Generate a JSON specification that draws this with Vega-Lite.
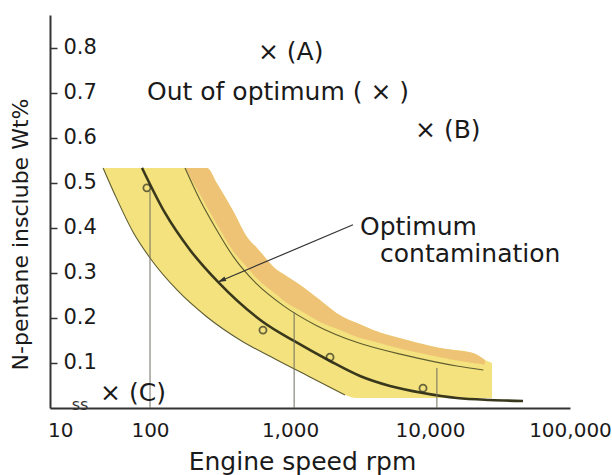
{
  "$schema": "https://vega.github.io/schema/vega-lite/v6.json",
  "width": 520,
  "height": 393,
  "autosize": "none",
  "padding": {"left": 50, "top": 15, "right": 42, "bottom": 67},
  "background": "white",
  "config": {"view": {"stroke": null}, "font": "DejaVu Sans"},
  "datasets": {
    "yellow": [
      {"x": 46.2, "hi": 0.5333, "lo": 0.5333},
      {"x": 56.2, "hi": 0.5333, "lo": 0.4733},
      {"x": 75.6, "hi": 0.5333, "lo": 0.3911},
      {"x": 100, "hi": 0.5333, "lo": 0.3333},
      {"x": 155.9, "hi": 0.5333, "lo": 0.2622},
      {"x": 255.3, "hi": 0.5333, "lo": 0.2022},
      {"x": 301, "hi": 0.4986, "lo": 0.1867},
      {"x": 393.6, "hi": 0.437, "lo": 0.162},
      {"x": 493, "hi": 0.38, "lo": 0.1427},
      {"x": 581, "hi": 0.3556, "lo": 0.1307},
      {"x": 807.5, "hi": 0.3067, "lo": 0.1067},
      {"x": 891, "hi": 0.298, "lo": 0.1},
      {"x": 1238, "hi": 0.2689, "lo": 0.0769},
      {"x": 1552, "hi": 0.2456, "lo": 0.0609},
      {"x": 2391, "hi": 0.2022, "lo": 0.0312},
      {"x": 3010, "hi": 0.1887, "lo": 0.022},
      {"x": 3916, "hi": 0.1733, "lo": 0.022},
      {"x": 6850, "hi": 0.1511, "lo": 0.022},
      {"x": 11790, "hi": 0.1333, "lo": 0.022},
      {"x": 20280, "hi": 0.1222, "lo": 0.022},
      {"x": 24710, "hi": 0.1067, "lo": 0.022},
      {"x": 27730, "hi": 0.1, "lo": 0.022}
    ],
    "orange": [
      {"x": 177.8, "hi": 0.5333, "lo": 0.5333},
      {"x": 227.6, "hi": 0.5333, "lo": 0.4742},
      {"x": 255.3, "hi": 0.5333, "lo": 0.4463},
      {"x": 301, "hi": 0.4986, "lo": 0.4076},
      {"x": 393.6, "hi": 0.437, "lo": 0.3483},
      {"x": 493, "hi": 0.38, "lo": 0.3128},
      {"x": 581, "hi": 0.3556, "lo": 0.2876},
      {"x": 807.5, "hi": 0.3067, "lo": 0.2508},
      {"x": 891, "hi": 0.298, "lo": 0.2394},
      {"x": 1238, "hi": 0.2689, "lo": 0.2132},
      {"x": 1552, "hi": 0.2456, "lo": 0.1949},
      {"x": 2391, "hi": 0.2022, "lo": 0.1706},
      {"x": 3010, "hi": 0.1887, "lo": 0.1579},
      {"x": 3916, "hi": 0.1733, "lo": 0.1482},
      {"x": 6850, "hi": 0.1511, "lo": 0.1283},
      {"x": 11790, "hi": 0.1333, "lo": 0.113},
      {"x": 15590, "hi": 0.1276, "lo": 0.1053},
      {"x": 20280, "hi": 0.1222, "lo": 0.0998},
      {"x": 24710, "hi": 0.1067, "lo": 0.0964}
    ],
    "curves": [
      {"curve": "lower", "x": 46.2, "y": 0.5333},
      {"curve": "lower", "x": 56.2, "y": 0.4733},
      {"curve": "lower", "x": 75.6, "y": 0.3911},
      {"curve": "lower", "x": 100, "y": 0.3333},
      {"curve": "lower", "x": 155.9, "y": 0.2622},
      {"curve": "lower", "x": 255.3, "y": 0.2022},
      {"curve": "lower", "x": 439.4, "y": 0.1511},
      {"curve": "lower", "x": 807.5, "y": 0.1067},
      {"curve": "lower", "x": 1389, "y": 0.0689},
      {"curve": "lower", "x": 2471, "y": 0.0289},
      {"curve": "upper", "x": 177.8, "y": 0.5333},
      {"curve": "upper", "x": 227.6, "y": 0.4622},
      {"curve": "upper", "x": 299.5, "y": 0.3956},
      {"curve": "upper", "x": 393.6, "y": 0.3363},
      {"curve": "upper", "x": 578, "y": 0.2756},
      {"curve": "upper", "x": 895.6, "y": 0.2274},
      {"curve": "upper", "x": 1552, "y": 0.1829},
      {"curve": "upper", "x": 2994, "y": 0.1459},
      {"curve": "upper", "x": 6826, "y": 0.1163},
      {"curve": "upper", "x": 15530, "y": 0.0933},
      {"curve": "upper", "x": 24050, "y": 0.0844}
    ],
    "main": [
      {"x": 87.7, "y": 0.5333},
      {"x": 128, "y": 0.4333},
      {"x": 193.1, "y": 0.3511},
      {"x": 306, "y": 0.28},
      {"x": 641.5, "y": 0.1911},
      {"x": 1068, "y": 0.1489},
      {"x": 1931, "y": 0.1044},
      {"x": 3162, "y": 0.0711},
      {"x": 5179, "y": 0.0489},
      {"x": 8913, "y": 0.0333},
      {"x": 15590, "y": 0.0222},
      {"x": 26830, "y": 0.0178},
      {"x": 46160, "y": 0.0156}
    ],
    "drops": [
      {"x": 100, "top": 0.482},
      {"x": 1070, "top": 0.213},
      {"x": 11200, "top": 0.089}
    ],
    "circles": [
      {"x": 95, "y": 0.489},
      {"x": 641, "y": 0.173},
      {"x": 1931, "y": 0.113},
      {"x": 8913, "y": 0.044}
    ],
    "arrow": [
      {"x": 2818, "y": 0.407, "x2": 306, "y2": 0.28}
    ],
    "labels": [
      {"text": "× (A)", "x": 590, "y": 0.791},
      {"text": "Out of optimum ( × )", "x": 95.2, "y": 0.702},
      {"text": "× (B)", "x": 7816, "y": 0.618},
      {"text": "× (C)", "x": 44, "y": 0.033},
      {"text": "Optimum", "x": 3162, "y": 0.402},
      {"text": "contamination", "x": 4394, "y": 0.342}
    ],
    "brk": [
      {"text": "ss", "x": 31.6, "y": 0.0}
    ]
  },
  "encoding": {
    "x": {
      "field": "x",
      "type": "quantitative",
      "scale": {"type": "log", "domain": [19.3, 100000], "nice": false},
      "axis": {
        "title": "Engine speed rpm",
        "titleFontSize": 25,
        "titleFontWeight": "normal",
        "titleColor": "#1a1a1a",
        "titleX": 252,
        "titleY": 61,
        "titleAlign": "center",
        "titleBaseline": "alphabetic",
        "values": [22.8, 100, 1000, 10000, 100000],
        "labelExpr": "datum.value < 50 ? '10' : format(datum.value, ',')",
        "labelFontSize": 20,
        "labelColor": "#1a1a1a",
        "labelPadding": 12,
        "labelFlush": false,
        "labelOverlap": false,
        "ticks": false,
        "grid": false,
        "domainColor": "#333333",
        "domainWidth": 2
      }
    },
    "y": {
      "field": "y",
      "type": "quantitative",
      "scale": {"domain": [0, 0.873], "nice": false},
      "axis": {
        "title": "N-pentane insclube Wt%",
        "titleFontSize": 22,
        "titleFontWeight": "normal",
        "titleColor": "#1a1a1a",
        "titleAngle": 270,
        "titleX": -30,
        "titleY": 219,
        "titleAlign": "center",
        "titleBaseline": "middle",
        "values": [0.1, 0.2, 0.3, 0.4, 0.5, 0.6, 0.7, 0.8],
        "format": ".1f",
        "labelFontSize": 21,
        "labelColor": "#1a1a1a",
        "labelAlign": "left",
        "labelPadding": -6,
        "tickSize": -7,
        "tickColor": "#333333",
        "tickWidth": 1.5,
        "grid": false,
        "domainColor": "#333333",
        "domainWidth": 2
      }
    }
  },
  "layer": [
    {
      "data": {"name": "yellow"},
      "mark": {"type": "area", "color": "#f3e27e", "interpolate": "monotone"},
      "encoding": {"y": {"field": "hi", "type": "quantitative"}, "y2": {"field": "lo"}}
    },
    {
      "data": {"name": "orange"},
      "mark": {"type": "area", "color": "#ecbd73", "opacity": 0.85, "interpolate": "monotone"},
      "encoding": {"y": {"field": "hi", "type": "quantitative"}, "y2": {"field": "lo"}}
    },
    {
      "data": {"name": "curves"},
      "mark": {"type": "line", "color": "#5e5c30", "strokeWidth": 1.1, "interpolate": "monotone"},
      "encoding": {"detail": {"field": "curve"}}
    },
    {
      "data": {"name": "main"},
      "mark": {"type": "line", "color": "#3a381c", "strokeWidth": 2.6, "interpolate": "monotone"},
      "encoding": {}
    },
    {
      "data": {"name": "drops"},
      "mark": {"type": "rule", "color": "#6e6e60", "strokeWidth": 1},
      "encoding": {"y": {"field": "top", "type": "quantitative"}, "y2": {"datum": 0}}
    },
    {
      "data": {"name": "circles"},
      "mark": {"type": "point", "shape": "circle", "filled": false, "size": 50, "stroke": "#2e2e20", "strokeWidth": 1.8},
      "encoding": {}
    },
    {
      "data": {"name": "arrow"},
      "mark": {"type": "rule", "color": "#333333", "strokeWidth": 1.2},
      "encoding": {"x2": {"field": "x2"}, "y2": {"field": "y2"}}
    },
    {
      "data": {"name": "arrow"},
      "mark": {"type": "point", "shape": "M0,0L-2,-0.6L-2,0.6Z", "filled": true, "color": "#333333", "size": 64, "angle": 157, "opacity": 1},
      "encoding": {"x": {"field": "x2", "type": "quantitative"}, "y": {"field": "y2", "type": "quantitative"}}
    },
    {
      "data": {"name": "labels"},
      "mark": {"type": "text", "align": "left", "baseline": "middle", "fontSize": 25, "color": "#1a1a1a"},
      "encoding": {"text": {"field": "text"}}
    },
    {
      "data": {"name": "brk"},
      "mark": {"type": "text", "align": "center", "baseline": "middle", "fontSize": 16, "dy": -3, "color": "#333333"},
      "encoding": {"text": {"field": "text"}}
    }
  ]
}
